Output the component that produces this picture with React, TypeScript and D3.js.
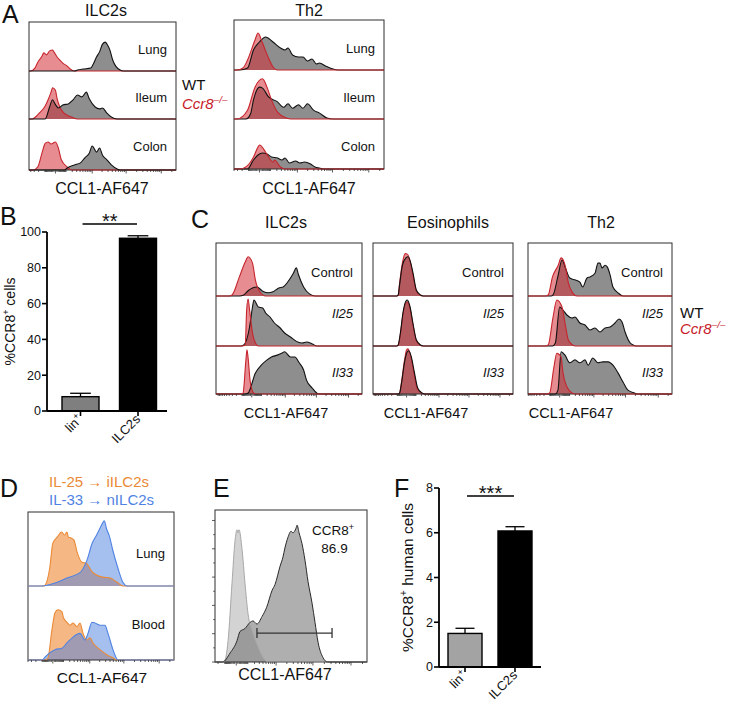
import React from 'react';
import * as d3 from 'd3';

type Pt = [number, number];
const FONT = '"Liberation Sans", Arial, Helvetica, sans-serif';

// ---------- Panel A (x: % of axis width, y: % of row max) ----------
const A_ILC2_LUNG_WT: Pt[] = [[31,0],[33,2],[37,4],[42,6],[44,16],[46,29],[48,39],[50,55],[52,59],[53,55],[55,43],[57,22],[59,10],[62,2],[64,0]];
const A_ILC2_LUNG_KO: Pt[] = [[1,0],[4,6],[6,18],[9,31],[10,37],[12,33],[14,41],[16,43],[17,39],[19,29],[21,22],[23,16],[26,10],[28,4],[31,0]];
const A_ILC2_ILEUM_WT: Pt[] = [[11,0],[14,25],[16,40],[18,30],[20,23],[23,29],[27,32],[30,40],[33,50],[36,46],[39,56],[41,42],[45,25],[48,21],[50,23],[53,12],[56,4],[60,0]];
const A_ILC2_ILEUM_KO: Pt[] = [[2,0],[7,12],[11,27],[13,40],[15,56],[16,65],[18,60],[19,44],[21,25],[23,15],[26,8],[29,4],[33,0]];
const A_ILC2_COLON_WT: Pt[] = [[24,0],[26,4],[31,10],[35,14],[38,24],[41,33],[43,47],[46,35],[48,43],[50,29],[53,20],[56,10],[60,2],[62,0]];
const A_ILC2_COLON_KO: Pt[] = [[3,0],[6,6],[9,35],[11,52],[13,55],[15,51],[18,55],[20,43],[22,20],[26,6],[29,0]];

const A_TH2_LUNG_WT: Pt[] = [[4,0],[9,4],[13,40],[17,56],[21,66],[26,56],[31,44],[34,40],[36,44],[39,30],[43,26],[46,26],[49,18],[52,22],[55,12],[57,14],[61,8],[64,4],[69,0]];
const A_TH2_LUNG_KO: Pt[] = [[2,0],[6,4],[9,20],[14,60],[16,74],[19,54],[23,24],[26,6],[29,0]];
const A_TH2_ILEUM_WT: Pt[] = [[8,0],[11,10],[13,39],[17,65],[19,63],[23,45],[29,35],[33,24],[36,31],[39,22],[43,29],[46,22],[49,31],[53,18],[57,12],[62,2],[66,0]];
const A_TH2_ILEUM_KO: Pt[] = [[2,0],[9,18],[14,65],[19,82],[22,65],[25,39],[29,14],[35,2],[38,0]];
const A_TH2_COLON_WT: Pt[] = [[9,0],[13,18],[16,28],[19,32],[22,30],[25,24],[29,22],[32,18],[34,22],[37,12],[41,16],[44,12],[47,14],[51,10],[54,4],[57,2],[60,0]];
const A_TH2_COLON_KO: Pt[] = [[4,0],[10,10],[13,24],[16,44],[17,48],[21,34],[23,24],[26,14],[27,18],[31,4],[34,0]];

// ---------- Panel C ----------
const C_ILC2_CTRL_WT: Pt[] = [[16,0],[19,2],[22,10],[25,15],[28,17],[32,9],[36,6],[39,8],[43,15],[46,17],[49,26],[53,43],[55,53],[56.5,40],[60,17],[64,4],[68,0]];
const C_ILC2_CTRL_KO: Pt[] = [[9,0],[11,2],[16,36],[20,64],[22,74],[25,62],[27,30],[30,8],[34,0]];
const C_ILC2_IL25_WT: Pt[] = [[17,0],[19,2],[23,38],[25,78],[26,92],[29,78],[32,76],[34,66],[37,58],[40,46],[44,36],[47,26],[51,18],[56,8],[59,6],[62,8],[66,4],[69,0]];
const C_ILC2_IL25_KO: Pt[] = [[18,0],[20,2],[21,72],[22,94],[23,72],[25,26],[27,6],[29,0]];
const C_ILC2_IL33_WT: Pt[] = [[20,0],[22,2],[27,44],[31,60],[35,71],[38,77],[42,81],[45,85],[47,88],[51,77],[54,77],[57,65],[60,50],[62,29],[66,12],[69,2],[70,0]];
const C_ILC2_IL33_KO: Pt[] = [[17,0],[18.5,2],[20.5,71],[21.2,92],[22,75],[23.3,29],[25.3,4],[27,0]];

const C_EOS_CTRL_WT: Pt[] = [[17,0],[18,2],[19,21],[21,58],[23.5,72],[25,74],[27,62],[28.6,43],[31,11],[34,2],[36,0]];
const C_EOS_CTRL_KO: Pt[] = [[17,0],[18,2],[19,24],[21,62],[23,80],[24.5,79],[26.5,66],[28.5,40],[31,9],[34,1],[36,0]];
const C_EOS_IL25_WT: Pt[] = [[17,0],[18,2],[19.5,25],[21.5,68],[23.5,90],[24.5,92],[26.5,78],[28.5,46],[31,12],[34,2],[36,0]];
const C_EOS_IL25_KO: Pt[] = [[17,0],[18,2],[19.5,22],[21.5,65],[23.5,86],[24.5,88],[26.5,74],[28.5,43],[31,10],[34,1],[36,0]];
const C_EOS_IL33_WT: Pt[] = [[18,0],[19,2],[20.5,25],[22.5,66],[24.5,88],[25.5,90],[27.5,76],[29.5,46],[32,12],[35,2],[37,0]];
const C_EOS_IL33_KO: Pt[] = [[18,0],[19,2],[20.5,28],[22.5,70],[24,92],[25,94],[27,78],[29,47],[31.5,12],[34.5,2],[37,0]];

const C_TH2_CTRL_WT: Pt[] = [[16,0],[17.4,2],[21,40],[23.6,68],[26,53],[29,34],[33,30],[36,26],[38,17],[41,34],[43,36],[46.5,43],[48.6,62],[50,62],[51.4,53],[53.5,58],[55,55],[57,40],[59,17],[62.5,6],[66,0]];
const C_TH2_CTRL_KO: Pt[] = [[12,0],[14,2],[17,36],[21,58],[23,72],[26,55],[28,25],[31,6],[34,0]];
const C_TH2_IL25_WT: Pt[] = [[17,0],[19,6],[22,78],[24.3,72],[27,62],[30.6,56],[32.6,58],[36,46],[39.6,42],[43,32],[46.5,36],[50,28],[53.5,36],[57,38],[60.4,46],[63.2,54],[65.3,48],[67.4,28],[71,6],[73,2],[75,0]];
const C_TH2_IL25_KO: Pt[] = [[12,0],[14,2],[17.4,58],[20,92],[23.6,78],[25.7,46],[28,12],[31,2],[33,0]];
const C_TH2_IL33_WT: Pt[] = [[19,0],[20.8,8],[23,88],[25.7,81],[29,65],[32.6,71],[36,65],[39.6,71],[41.7,60],[45,75],[48.6,65],[52,67],[55.6,67],[59,60],[62.5,44],[66,25],[69.4,8],[74,2],[76,0]];
const C_TH2_IL33_KO: Pt[] = [[13,0],[15,2],[18,56],[20,85],[23,77],[24.3,44],[27,15],[30.6,2],[33,0]];

// ---------- Panel D ----------
const D_LUNG_IL25: Pt[] = [[11,0],[15,26],[17,58],[20,66],[23,73],[25,69],[26.7,73],[27.7,66],[29.5,65],[31.5,62],[33.6,46],[37,32],[39.7,31],[44,19],[47,15],[51,12],[56,11],[61,5],[65,0]];
const D_LUNG_IL33: Pt[] = [[10,0],[18.5,4],[27,11],[35.6,18],[40.4,35],[44,58],[47,69],[49.3,78],[51.4,86],[52.2,88],[54,76],[55.5,69],[58,49],[61.6,24],[65,5],[68,0]];
const D_BLOOD_IL25: Pt[] = [[12,0],[13.7,3],[16.4,41],[18.5,64],[20.5,68],[23.3,65],[24.3,57],[26.7,51],[28.8,47],[30.8,50],[33.6,45],[35.6,50],[37.7,36],[40.4,27],[42.5,30],[44.5,23],[49.3,14],[54,7],[58,3],[61,0]];
const D_BLOOD_IL33: Pt[] = [[10,0],[11.6,4],[18.5,14],[23.3,16],[26.7,23],[30.8,31],[35.6,36],[39,27],[41.1,36],[43.8,51],[45.9,50],[49.3,47],[52.7,47],[54.8,36],[58.2,14],[61.6,0]];

// ---------- Panel E ----------
const E_ISOTYPE: Pt[] = [[6,0],[8.6,14],[11.2,52],[13.2,80],[14.5,87],[15.1,85],[15.8,87],[17.8,74],[19.7,52],[21.7,32],[25,19],[28.3,10],[31.6,3],[35,0]];
const E_CCR8: Pt[] = [[5,0],[10,6],[14.5,14],[16.4,20],[19.7,22],[23,26],[25,27],[27.6,25],[31,30],[34,36],[37.5,47],[39.5,51],[42.8,63],[44.7,69],[46,75],[48,82],[50,86],[51.3,85],[53.3,88],[54,90],[55.3,85],[57.2,78],[59.2,67],[61.2,53],[63.8,39],[65.8,26],[67.8,13],[71,3],[74,0]];
const E_GATE = [27.6, 77];
const E_GATE_LEVEL = 19;
const E_GATE_VALUE = '86.9';
const E_Y_TICKS = [0, 0.5, 1, 1.5, 2, 2.5, 3, 3.5, 4, 4.5, 5];

// ---------- Bars ----------
const B_CATS = ['lin+', 'ILC2s'];
const B_MEANS = [8.0, 96.5];
const B_ERRS = [1.9, 1.4];
const B_TICKS = [0, 20, 40, 60, 80, 100];
const F_CATS = ['lin+', 'ILC2s'];
const F_MEANS = [1.5, 6.08];
const F_ERRS = [0.23, 0.19];
const F_TICKS = [0, 2, 4, 6, 8];

// histogram axis ticks (biexponential-like)
const TICK_MULTS = [1, 2, 3, 4, 5, 6, 7, 8, 9];
const TICK_DECADES = [10, 100, 1000, 10000, 100000];
const MAJOR_TICKS = [0, 1000, 10000, 100000];

type Kind = 'wt' | 'ko' | 'il25' | 'il33' | 'iso' | 'ccr8';
const STYLES: Record<Kind, { fill: string; fo: number; stroke: string; sw: number }> = {
  wt: { fill: '#8e8e8e', fo: 1, stroke: '#111', sw: 1.1 },
  ko: { fill: '#d43039', fo: 0.55, stroke: '#c6252d', sw: 1.1 },
  il25: { fill: '#ef8a38', fo: 0.62, stroke: '#ea8a36', sw: 1.1 },
  il33: { fill: '#4c7fe0', fo: 0.5, stroke: '#4f83e3', sw: 1.1 },
  iso: { fill: '#d3d3d3', fo: 1, stroke: '#a8a8a8', sw: 1 },
  ccr8: { fill: '#6e6e6e', fo: 0.55, stroke: '#2a2a2a', sw: 1 },
};

interface Curve { data: Pt[]; kind: Kind }
interface Row { label: string; italic?: boolean; labelY: number; curves: Curve[] }

function HistBox(props: { x: number; top: number; w: number; bottoms: number[]; zero: number; rows: Row[]; lineOrder: Kind[]; }) {
  const { x, top, w, bottoms, zero, rows, lineOrder } = props;
  const xs = d3.scaleLinear().domain([0, 100]).range([x, x + w]);
  const n = (7.87 * zero) / (1 - zero);
  const xmin = -100 * (Math.exp(n) - 1);
  const ts = d3.scaleSymlog().constant(100).domain([xmin, 262144]).range([x, x + w]);
  const tickVals: number[] = [0];
  TICK_DECADES.forEach((d) => TICK_MULTS.forEach((m) => { tickVals.push(m * d); tickVals.push(-m * d); }));
  const ticks = tickVals.filter((v) => v >= xmin && v <= 262144);
  const bottom = bottoms[bottoms.length - 1];
  const els: React.ReactNode[] = [];
  const lineEls: React.ReactNode[] = [];
  rows.forEach((row, ri) => {
    const rb = bottoms[ri];
    const rt = ri === 0 ? top : bottoms[ri - 1];
    const ys = d3.scaleLinear().domain([0, 100]).range([rb, rt]);
    const area = d3.area<Pt>().x((d) => xs(d[0])).y0(ys(0)).y1((d) => ys(d[1])).curve(d3.curveMonotoneX);
    const line = d3.line<Pt>().x((d) => xs(d[0])).y((d) => ys(d[1])).curve(d3.curveMonotoneX);
    row.curves.forEach((c, ci) => {
      const s = STYLES[c.kind];
      els.push(<path key={`f${ri}${ci}`} d={area(c.data) || ''} fill={s.fill} fillOpacity={s.fo} stroke="none" />);
    });
    lineOrder.forEach((k, li) => {
      row.curves.filter((c) => c.kind === k).forEach((c, ci) => {
        const s = STYLES[c.kind];
        const full: Pt[] = [[0, 0], ...c.data, [100, 0]];
        lineEls.push(<path key={`l${ri}${li}${ci}`} d={line(full) || ''} fill="none" stroke={s.stroke} strokeWidth={s.sw} strokeLinejoin="round" />);
      });
    });
    if (row.label) {
      els.push(
        <text key={`t${ri}`} x={x + w - 9} y={row.labelY} fontSize={13} textAnchor="end" fontStyle={row.italic ? 'italic' : 'normal'} fill="#111">{row.label}</text>
      );
    }
  });
  return (
    <g>
      {els}
      <rect x={x} y={top} width={w} height={bottom - top} fill="none" stroke="#2e2e2e" strokeWidth={1} />
      {lineEls}
      {ticks.map((v, i) => {
        const major = MAJOR_TICKS.includes(v);
        return <line key={`k${i}`} x1={ts(v)} x2={ts(v)} y1={bottom} y2={bottom + (major ? 3.5 : 2)} stroke="#333" strokeWidth={0.8} />;
      })}
    </g>
  );
}

const rowsOf = (labels: string[], italics: boolean[], labelYs: number[], pairs: [Pt[], Pt[]][], kinds: [Kind, Kind]): Row[] =>
  labels.map((l, i) => ({ label: l, italic: italics[i], labelY: labelYs[i], curves: [{ data: pairs[i][0], kind: kinds[0] }, { data: pairs[i][1], kind: kinds[1] }] }));

function Ccr8Label({ x, y, size }: { x: number; y: number; size: number }) {
  return (
    <text x={x} y={y} fontSize={size} fill="#c8202a" fontStyle="italic">
      <tspan>Ccr8</tspan>
      <tspan fontSize={size * 0.66} dy={-size * 0.4}>–/–</tspan>
    </text>
  );
}

function CatLabel({ cat, x, y, size }: { cat: string; x: number; y: number; size: number }) {
  const sup = cat.endsWith('+');
  return (
    <text transform={`translate(${x},${y}) rotate(-45)`} textAnchor="end" fontSize={size} fill="#111">
      {sup ? (
        <>
          <tspan>{cat.slice(0, -1)}</tspan>
          <tspan fontSize={size * 0.7} dy={-size * 0.4}>+</tspan>
        </>
      ) : cat}
    </text>
  );
}

function BarPanel(props: {
  cats: string[]; means: number[]; errs: number[]; colors: string[]; ticks: number[];
  yDomain: [number, number]; yRange: [number, number]; axisX: number; axisEnd: number;
  centers: [number, number]; barW: number; sig: string; sigY: number; label: string; labelX: number; labelSize: number; catY: number;
}) {
  const p = props;
  const y = d3.scaleLinear().domain(p.yDomain).range(p.yRange);
  const x = d3.scalePoint<string>().domain(p.cats).range(p.centers);
  const base = y(0);
  const sx1 = x(p.cats[0])! + 2;
  const sx2 = x(p.cats[1])! - 1;
  return (
    <g>
      {p.cats.map((c, i) => {
        const cx = x(c)!;
        const top = y(p.means[i]);
        const et = y(p.means[i] + p.errs[i]);
        const cap = p.barW * 0.28;
        return (
          <g key={c}>
            <line x1={cx} x2={cx} y1={top} y2={et} stroke="#000" strokeWidth={1.3} />
            <line x1={cx - cap} x2={cx + cap} y1={et} y2={et} stroke="#000" strokeWidth={1.3} />
            <rect x={cx - p.barW / 2} y={top} width={p.barW} height={base - top} fill={p.colors[i]} stroke="#000" strokeWidth={1.4} />
            <line x1={cx} x2={cx} y1={base} y2={base + 5} stroke="#000" strokeWidth={1.6} />
            <CatLabel cat={c} x={cx + 3} y={p.catY} size={13} />
          </g>
        );
      })}
      <line x1={p.axisX} x2={p.axisX} y1={p.yRange[1]} y2={base} stroke="#000" strokeWidth={1.8} />
      <line x1={p.axisX} x2={p.axisEnd} y1={base} y2={base} stroke="#000" strokeWidth={1.8} />
      {p.ticks.map((t) => (
        <g key={t}>
          <line x1={p.axisX - 5} x2={p.axisX} y1={y(t)} y2={y(t)} stroke="#000" strokeWidth={1.6} />
          <text x={p.axisX - 6} y={y(t) + 4.3} fontSize={12.5} textAnchor="end" fill="#111">{t}</text>
        </g>
      ))}
      <line x1={sx1} x2={sx2} y1={p.sigY} y2={p.sigY} stroke="#000" strokeWidth={1.4} />
      <text x={(sx1 + sx2) / 2} y={p.sigY + 4} fontSize={20} textAnchor="middle" fill="#111">{p.sig}</text>
      <text transform={`translate(${p.labelX},${(p.yRange[0] + p.yRange[1]) / 2}) rotate(-90)`} textAnchor="middle" fontSize={p.labelSize} fill="#111">
        <tspan>%CCR8</tspan>
        <tspan fontSize={p.labelSize * 0.65} dy={-p.labelSize * 0.4}>+</tspan>
        <tspan dy={p.labelSize * 0.4}>{p.label}</tspan>
      </text>
    </g>
  );
}

export default function App() {
  const Aleft = rowsOf(['Lung', 'Ileum', 'Colon'], [false, false, false], [53.5, 101.5, 150.5],
    [[A_ILC2_LUNG_WT, A_ILC2_LUNG_KO], [A_ILC2_ILEUM_WT, A_ILC2_ILEUM_KO], [A_ILC2_COLON_WT, A_ILC2_COLON_KO]], ['wt', 'ko']);
  const Aright = rowsOf(['Lung', 'Ileum', 'Colon'], [false, false, false], [53, 101.5, 150.5],
    [[A_TH2_LUNG_WT, A_TH2_LUNG_KO], [A_TH2_ILEUM_WT, A_TH2_ILEUM_KO], [A_TH2_COLON_WT, A_TH2_COLON_KO]], ['wt', 'ko']);
  const cLabels = ['Control', 'Il25', 'Il33'];
  const cIt = [false, true, true];
  const cY = [277, 318, 377];
  const C1 = rowsOf(cLabels, cIt, cY, [[C_ILC2_CTRL_WT, C_ILC2_CTRL_KO], [C_ILC2_IL25_WT, C_ILC2_IL25_KO], [C_ILC2_IL33_WT, C_ILC2_IL33_KO]], ['wt', 'ko']);
  const C2 = rowsOf(cLabels, cIt, cY, [[C_EOS_CTRL_WT, C_EOS_CTRL_KO], [C_EOS_IL25_WT, C_EOS_IL25_KO], [C_EOS_IL33_WT, C_EOS_IL33_KO]], ['wt', 'ko']);
  const C3 = rowsOf(cLabels, cIt, cY, [[C_TH2_CTRL_WT, C_TH2_CTRL_KO], [C_TH2_IL25_WT, C_TH2_IL25_KO], [C_TH2_IL33_WT, C_TH2_IL33_KO]], ['wt', 'ko']);
  const Drows = rowsOf(['Lung', 'Blood'], [false, false], [557.5, 628.5], [[D_LUNG_IL25, D_LUNG_IL33], [D_BLOOD_IL25, D_BLOOD_IL33]], ['il25', 'il33']);
  const Erows: Row[] = [{ label: '', labelY: 0, curves: [{ data: E_ISOTYPE, kind: 'iso' }, { data: E_CCR8, kind: 'ccr8' }] }];

  // Panel E scales for annotations
  const E_X = 215, E_W = 152, E_TOP = 510, E_BOT = 662;
  const ex = d3.scaleLinear().domain([0, 100]).range([E_X, E_X + E_W]);
  const ey = d3.scaleLinear().domain([0, 100]).range([E_BOT, E_TOP]);
  const eTickY = d3.scaleLinear().domain([0, 5.37]).range([E_BOT, E_TOP]);

  const panelLetter = (t: string, x: number, y: number) => (
    <text x={x} y={y} fontSize={25} fill="#111">{t}</text>
  );
  const axisLabel = (x: number, y: number, size: number) => (
    <text x={x} y={y} fontSize={size} textAnchor="middle" fill="#111">CCL1-AF647</text>
  );
  const title = (t: string, x: number, y: number) => (
    <text x={x} y={y} fontSize={16} textAnchor="middle" fill="#111">{t}</text>
  );

  return (
    <svg width={742} height={709} style={{ position: 'absolute', left: 0, top: 0, background: '#fff' }} fontFamily={FONT}>
      <rect width={742} height={709} fill="#fff" />
      {/* Panel A */}
      {panelLetter('A', 2, 23)}
      {title('ILC2s', 106, 16)}
      {title('Th2', 309, 16)}
      <HistBox x={29} top={22} w={147} bottoms={[71, 119, 170]} zero={0.18} rows={Aleft} lineOrder={['ko', 'wt']} />
      <HistBox x={234} top={20} w={150} bottoms={[70, 119, 169]} zero={0.17} rows={Aright} lineOrder={['wt', 'ko']} />
      {axisLabel(102, 194, 16)}
      {axisLabel(309, 194, 16)}
      <text x={182} y={90} fontSize={15} fill="#111">WT</text>
      <Ccr8Label x={182} y={109} size={15} />

      {/* Panel B */}
      {panelLetter('B', 0, 225)}
      <BarPanel cats={B_CATS} means={B_MEANS} errs={B_ERRS} colors={['#7f7f7f', '#000']} ticks={B_TICKS}
        yDomain={[0, 100]} yRange={[411, 232]} axisX={47} axisEnd={167} centers={[80.5, 138]} barW={37}
        sig="**" sigY={224} label=" cells" labelX={15} labelSize={14} catY={420} />

      {/* Panel C */}
      {panelLetter('C', 191, 228)}
      {title('ILC2s', 286, 228)}
      {title('Eosinophils', 448, 228)}
      {title('Th2', 601, 228)}
      <HistBox x={216} top={243} w={146} bottoms={[296, 346, 394]} zero={0.245} rows={C1} lineOrder={['wt', 'ko']} />
      <HistBox x={373} top={243} w={140} bottoms={[296, 346, 394]} zero={0.24} rows={C2} lineOrder={['ko', 'wt']} />
      <HistBox x={528} top={243} w={144} bottoms={[296, 346, 394]} zero={0.22} rows={C3} lineOrder={['wt', 'ko']} />
      {axisLabel(286, 418, 14.5)}
      {axisLabel(426, 418, 14.5)}
      {axisLabel(571, 418, 14.5)}
      <text x={680} y={318} fontSize={15} fill="#111">WT</text>
      <Ccr8Label x={680} y={334} size={15} />

      {/* Panel D */}
      {panelLetter('D', 0, 497)}
      <text x={49} y={487} fontSize={15} fill="#ea8a36">IL-25 → iILC2s</text>
      <text x={49} y={505} fontSize={15} fill="#4f83e3">IL-33 → nILC2s</text>
      <HistBox x={28} top={512} w={146} bottoms={[586, 660]} zero={0.17} rows={Drows} lineOrder={['il25', 'il33']} />
      {axisLabel(102, 683, 15.5)}

      {/* Panel E */}
      {panelLetter('E', 213, 497)}
      <HistBox x={E_X} top={E_TOP} w={E_W} bottoms={[E_BOT]} zero={0.14} rows={Erows} lineOrder={['iso', 'ccr8']} />
      {E_Y_TICKS.map((t, i) => (
        <line key={i} x1={E_X - (Number.isInteger(t) ? 3 : 1.8)} x2={E_X} y1={eTickY(t)} y2={eTickY(t)} stroke="#333" strokeWidth={0.8} />
      ))}
      <g stroke="#333" strokeWidth={1.3}>
        <line x1={ex(E_GATE[0])} x2={ex(E_GATE[1])} y1={ey(E_GATE_LEVEL)} y2={ey(E_GATE_LEVEL)} />
        <line x1={ex(E_GATE[0])} x2={ex(E_GATE[0])} y1={ey(E_GATE_LEVEL) - 5} y2={ey(E_GATE_LEVEL) + 5} />
        <line x1={ex(E_GATE[1])} x2={ex(E_GATE[1])} y1={ey(E_GATE_LEVEL) - 5} y2={ey(E_GATE_LEVEL) + 5} />
      </g>
      <text x={312} y={535} fontSize={13.5} fill="#111">
        <tspan>CCR8</tspan>
        <tspan fontSize={9} dy={-5}>+</tspan>
      </text>
      <text x={334.5} y={553} fontSize={13.5} textAnchor="middle" fill="#111">{E_GATE_VALUE}</text>
      {axisLabel(285, 680, 16)}

      {/* Panel F */}
      {panelLetter('F', 394, 497)}
      <BarPanel cats={F_CATS} means={F_MEANS} errs={F_ERRS} colors={['#a3a3a3', '#000']} ticks={F_TICKS}
        yDomain={[0, 8]} yRange={[667, 488]} axisX={439} axisEnd={541} centers={[465, 515]} barW={34}
        sig="***" sigY={496} label=" human cells" labelX={413} labelSize={15.5} catY={676} />
    </svg>
  );
}
